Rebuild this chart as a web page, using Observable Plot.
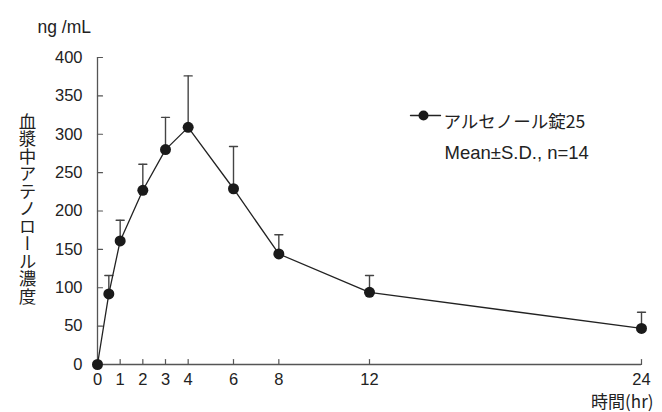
<!DOCTYPE html>
<html>
<head>
<meta charset="utf-8">
<script src="https://cdn.jsdelivr.net/npm/d3@7"></script>
<script src="https://cdn.jsdelivr.net/npm/@observablehq/plot@0.6"></script>
<style>
  html, body { margin: 0; padding: 0; background: #fff; }
  #chart { width: 662px; height: 412px; }
</style>
</head>
<body>
<div id="chart"></div>
<script>
const times = [0, 0.5, 1, 2, 3, 4, 6, 8, 12, 24];
const means = [0, 92, 161, 227, 280, 309, 229, 144, 94, 47];
const sds   = [0, 24, 27, 34, 42, 67, 55, 25, 22, 21];
const xTicks = [0, 1, 2, 3, 4, 6, 8, 12, 24];
const yTicks = [0, 50, 100, 150, 200, 250, 300, 350, 400];
const seriesName = "アルセノール錠25";
const statNote = "Mean±S.D., n=14";
const yTitle = "血漿中アテノロール濃度";
const unitLabel = "ng /mL";
const xTitle = "時間(hr)";

const data = times.map((t, i) => ({t, m: means[i], sd: sds[i], top: means[i] + sds[i]}));
const bars = data.filter(d => d.sd > 0);

const FONT = "'Liberation Sans', Arial, 'Noto Sans CJK JP', sans-serif";
const JFONT = "'Noto Sans CJK JP', sans-serif";
const axisColor = "#555";

const lineShape = { draw(ctx, l) { ctx.moveTo(0, 0); ctx.lineTo(0, -l); } };

const W = 662, H = 412;
const mL = 97, mR = 21, mT = 57, mB = 48;

const plot = Plot.plot({
  width: W, height: H,
  marginLeft: mL, marginRight: mR, marginTop: mT, marginBottom: mB,
  style: { fontFamily: FONT, fontSize: "16.5px", background: "#fff", color: "#222", overflow: "visible" },
  x: { domain: [0, 24], ticks: xTicks },
  y: { domain: [0, 400], ticks: yTicks },
  marks: [
    // axis lines
    Plot.ruleX([0], { stroke: axisColor, strokeWidth: 1.3 }),
    Plot.ruleY([0], { stroke: axisColor, strokeWidth: 1.3 }),
    // inward ticks
    Plot.vector(yTicks, { x: 0, y: d => d, length: 5, rotate: 90, anchor: "start", shape: lineShape, stroke: axisColor, strokeWidth: 1.2 }),
    Plot.vector(xTicks.filter(d => d > 0), { x: d => d, y: 0, length: 5, rotate: 0, anchor: "start", shape: lineShape, stroke: axisColor, strokeWidth: 1.2 }),
    // tick labels
    Plot.axisY({ ticks: yTicks, tickSize: 0, tickPadding: 15, fontSize: 16.5, label: null, fill: "#222" }),
    Plot.axisX({ ticks: xTicks, tickSize: 0, tickPadding: 9, fontSize: 16.5, label: null, fill: "#222" }),
    // error bars (upper)
    Plot.ruleX(bars, { x: "t", y1: "m", y2: "top", stroke: "#444", strokeWidth: 1.4 }),
    Plot.vector(bars, { x: "t", y: "top", length: 8, rotate: 90, anchor: "middle", shape: lineShape, stroke: "#444", strokeWidth: 1.4 }),
    // series line and points
    Plot.line(data, { x: "t", y: "m", stroke: "#222", strokeWidth: 1.3 }),
    Plot.dot(data, { x: "t", y: "m", r: 5.5, fill: "#1a1a1a", stroke: "none" }),
    // legend
    Plot.vector([0], { frameAnchor: "top-left", dx: 410 - mL, dy: 115 - mT, length: 30, rotate: 90, anchor: "start", shape: lineShape, stroke: "#222", strokeWidth: 1.3 }),
    Plot.dot([0], { frameAnchor: "top-left", dx: 423 - mL, dy: 115 - mT, r: 5, fill: "#1a1a1a" }),
    Plot.text([seriesName], { frameAnchor: "top-left", dx: 443 - mL, dy: 115 - mT, text: d => d, textAnchor: "start", fontSize: 17.5, fill: "#222", fontFamily: JFONT }),
    Plot.text([statNote], { frameAnchor: "top-left", dx: 444 - mL, dy: 145 - mT, text: d => d, textAnchor: "start", fontSize: 18.5, fill: "#222" }),
    // unit label
    Plot.text([unitLabel], { frameAnchor: "top-left", dx: 37 - mL, dy: 20 - mT, text: d => d, textAnchor: "start", fontSize: 17.5, fill: "#222" }),
    // x title
    Plot.text([xTitle], { frameAnchor: "bottom-right", dx: 653 - (W - mR), dy: 407 - (H - mB), text: d => d, textAnchor: "end", fontSize: 17, fill: "#222", fontFamily: JFONT }),
    // y title (vertical)
    Plot.text([yTitle], { frameAnchor: "left", dx: 27 - mL, dy: -8, text: d => d, textAnchor: "middle", fontSize: 17.5, fill: "#222", fontFamily: JFONT })
  ]
});

d3.select(plot).selectAll("text").filter(function() { return this.textContent === yTitle; })
  .attr("writing-mode", "vertical-rl")
  .attr("dy", null)
  .style("dominant-baseline", "central");

document.getElementById("chart").appendChild(plot);
</script>
</body>
</html>
